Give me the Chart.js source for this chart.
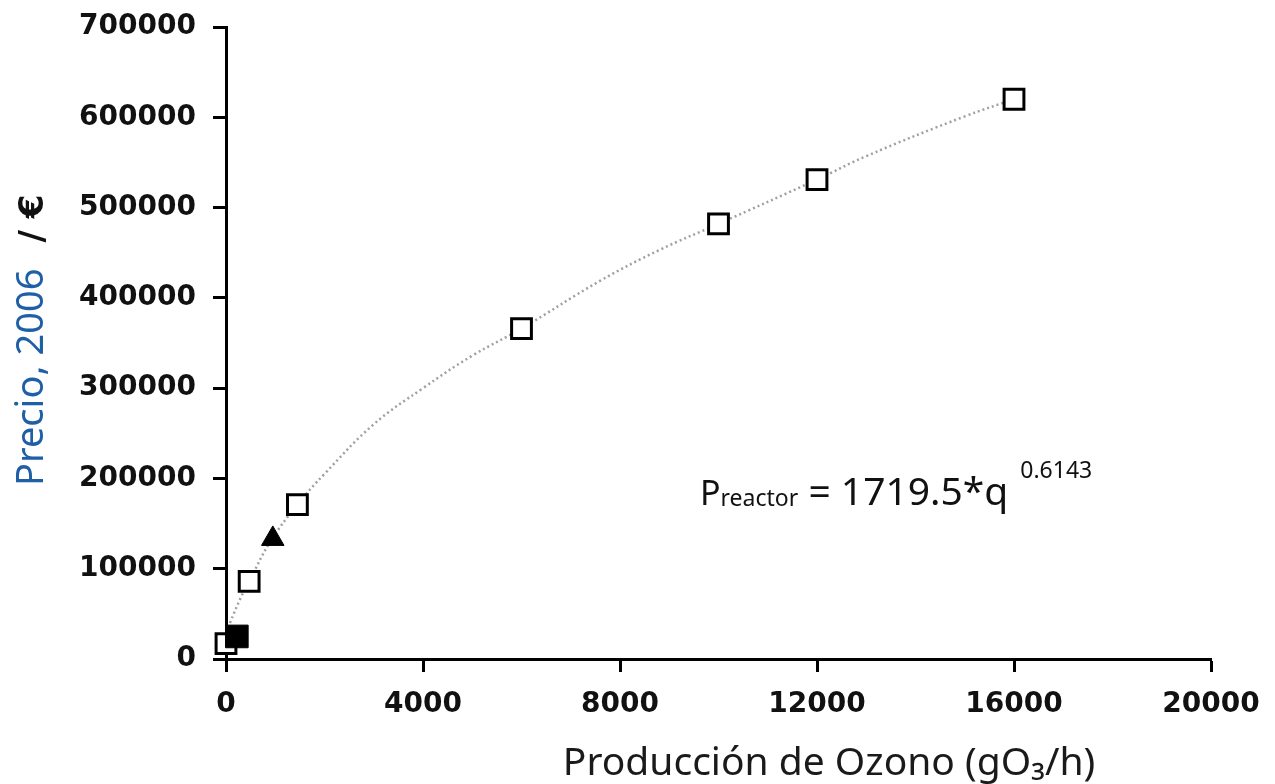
<!DOCTYPE html>
<html>
<head>
<meta charset="utf-8">
<script src="https://cdn.jsdelivr.net/npm/chart.js@4.4.1/dist/chart.umd.min.js"></script>
<style>
  html, body { margin: 0; padding: 0; background: #ffffff; }
  #wrap { width: 1275px; height: 784px; position: relative; }
</style>
</head>
<body>
<div id="wrap"><canvas id="c" width="1275" height="784"></canvas></div>
<script>
// ---- Data ----
const openSquareX = [0, 470, 1450, 6000, 10000, 12000, 16000];
const openSquareY = [17000, 86000, 171000, 366000, 482000, 531000, 620000];

const filledSquareX = [220];
const filledSquareY = [25000];

const triangleX = [950];
const triangleY = [133000];

const trendX = [80, 300, 470, 900, 1450, 2000, 3000, 4000, 5000, 6000, 7600, 8800, 10000, 12000, 13000, 15000, 16000];
const trendY = [40000, 68000, 86000, 130000, 171000, 205000, 260000, 300000, 336000, 366000, 419000, 453000, 482000, 531000, 557000, 601000, 620000];

const xTicks = [0, 4000, 8000, 12000, 16000, 20000];
const yTicks = [0, 100000, 200000, 300000, 400000, 500000, 600000, 700000];

const xTitle = 'Producción de Ozono (gO₃/h)';
const yTitleMain = 'Precio, 2006';
const yTitleUnit = '/ €';
const eqP = 'P';
const eqSub = 'reactor';
const eqMain = ' = 1719.5*q';
const eqSup = '0.6143';

function pts(xs, ys) { return xs.map((x, i) => ({ x: x, y: ys[i] })); }

const titlesPlugin = {
  id: 'titles',
  afterDraw(chart) {
    const ctx = chart.ctx;
    ctx.save();
    // X title
    ctx.font = '39px "Noto Sans"';
    ctx.fillStyle = '#1a1a1a';
    ctx.textAlign = 'center';
    ctx.textBaseline = 'alphabetic';
    ctx.fillText(xTitle, 829, 775);

    // Y title (rotated)
    ctx.translate(43, 486);
    ctx.rotate(-Math.PI / 2);
    ctx.textAlign = 'left';
    ctx.textBaseline = 'alphabetic';
    ctx.font = '38px "Noto Sans"';
    ctx.fillStyle = '#1f5fa6';
    ctx.fillText(yTitleMain, 0, 0);
    const w = ctx.measureText(yTitleMain).width;
    ctx.font = 'bold 34px "DejaVu Sans"';
    ctx.fillStyle = '#111111';
    ctx.fillText(yTitleUnit, w + 26, 0);
    ctx.restore();

    // Equation
    ctx.save();
    ctx.fillStyle = '#111111';
    ctx.textAlign = 'left';
    ctx.textBaseline = 'alphabetic';
    let x = 700;
    const base = 505;
    ctx.font = '34px "Noto Sans"';
    ctx.fillText(eqP, x, base);
    x += ctx.measureText(eqP).width;
    ctx.font = '23px "Noto Sans"';
    ctx.fillText(eqSub, x, base + 1);
    x += ctx.measureText(eqSub).width;
    ctx.font = '39px "Noto Sans"';
    ctx.fillText(eqMain, x, base);
    x += ctx.measureText(eqMain).width + 12;
    ctx.font = '23px "Noto Sans"';
    ctx.fillText(eqSup, x, base - 27);
    ctx.restore();
  }
};

const tickFont = { family: '"DejaVu Sans"', size: 28, weight: 'bold' };

new Chart(document.getElementById('c'), {
  type: 'scatter',
  data: {
    datasets: [
      {
        label: 'filled',
        data: pts(filledSquareX, filledSquareY),
        pointStyle: 'rect',
        pointRadius: 16,
        backgroundColor: '#000000',
        borderColor: '#000000',
        borderWidth: 1,
        clip: false
      },
      {
        label: 'triangle',
        data: pts(triangleX, triangleY),
        pointStyle: 'triangle',
        pointRadius: 13,
        backgroundColor: '#000000',
        borderColor: '#000000',
        borderWidth: 1,
        clip: false
      },
      {
        label: 'open',
        data: pts(openSquareX, openSquareY),
        pointStyle: 'rect',
        pointRadius: 14,
        backgroundColor: '#ffffff',
        borderColor: '#000000',
        borderWidth: 3,
        clip: false
      },
      {
        label: 'trend',
        data: pts(trendX, trendY),
        showLine: true,
        pointRadius: 0,
        borderColor: '#a0a0a0',
        borderWidth: 2.5,
        borderDash: [2, 3],
        tension: 0.4,
        fill: false,
        clip: false
      }
    ]
  },
  options: {
    responsive: false,
    animation: false,
    layout: { padding: { left: 0, right: 64, top: 27, bottom: 0 } },
    plugins: {
      legend: { display: false },
      tooltip: { enabled: false }
    },
    scales: {
      x: {
        type: 'linear',
        min: 0,
        max: 20000,
        afterBuildTicks(scale) { scale.ticks = xTicks.map(v => ({ value: v })); },
        afterFit(scale) { scale.height = 125; scale.paddingLeft = 0; scale.paddingRight = 0; },
        border: { display: true, color: '#000000', width: 3 },
        grid: { drawOnChartArea: false, drawTicks: true, tickLength: 13, tickColor: '#000000', tickWidth: 3 },
        ticks: { color: '#111111', font: tickFont, padding: 16, maxRotation: 0, callback: v => String(v) }
      },
      y: {
        type: 'linear',
        min: 0,
        max: 700000,
        afterBuildTicks(scale) { scale.ticks = yTicks.map(v => ({ value: v })); },
        afterFit(scale) { scale.width = 226; scale.paddingTop = 0; scale.paddingBottom = 0; },
        border: { display: true, color: '#000000', width: 3 },
        grid: { drawOnChartArea: false, drawTicks: true, tickLength: 13, tickColor: '#000000', tickWidth: 3 },
        ticks: { color: '#111111', font: tickFont, padding: 17, callback: v => String(v) }
      }
    }
  },
  plugins: [titlesPlugin]
});
</script>
</body>
</html>
